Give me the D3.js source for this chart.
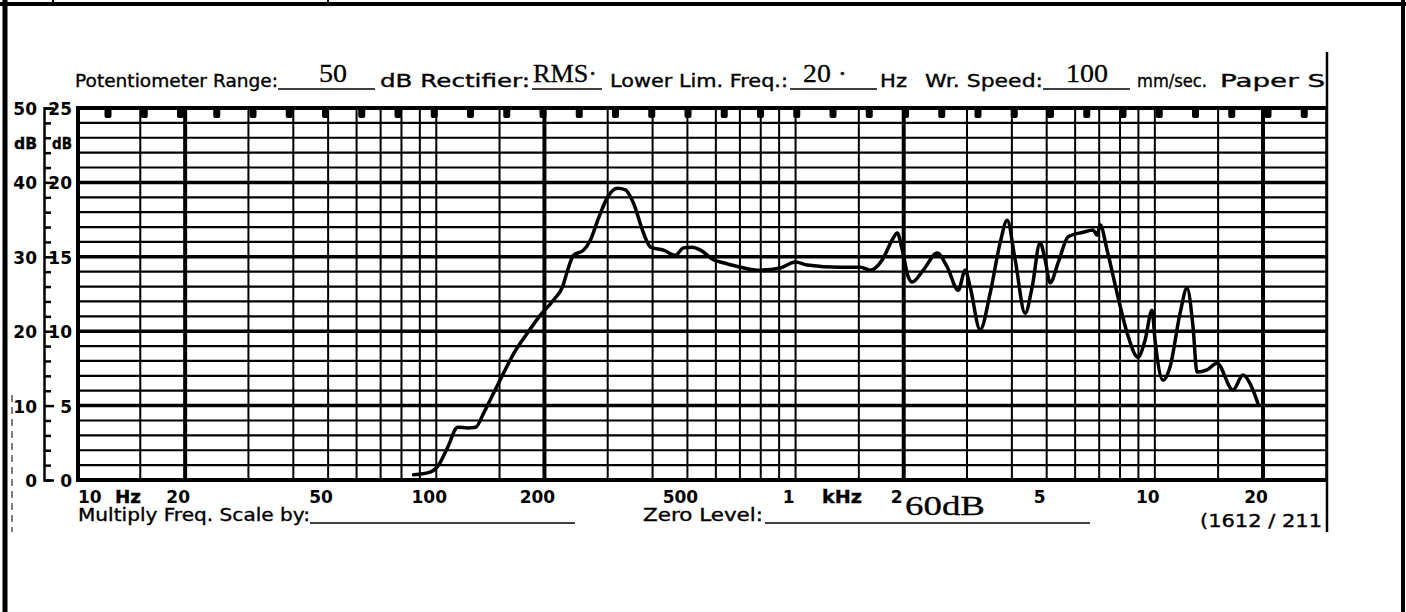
<!DOCTYPE html>
<html>
<head>
<meta charset="utf-8">
<script src="https://cdnjs.cloudflare.com/ajax/libs/d3/7.8.5/d3.min.js"></script>
<style>
  body { margin: 0; background: #fff; }
  svg { display: block; }
  text { font-family: "DejaVu Sans", sans-serif; fill: #000; }
  .form { stroke: #000; stroke-width: 0.35; }
  .typed { font-family: "Liberation Serif", "DejaVu Serif", serif; stroke: #000; stroke-width: 0.3; }
</style>
</head>
<body>
<script>
var width = 1406, height = 612;

// Level recorder trace (Hz, dB on the 50 dB scale)
var freqs = [86.5, 96.5, 101.5, 107.6, 114.7, 122.3, 128.7, 135.5, 144.4, 154, 164.2, 179.6, 195.1,
  212.1, 224.7, 232, 241, 257, 268.8, 282.9, 299.7, 319.4, 336.2, 353.9, 377.3, 394.7, 429, 463.2,
  487.5, 516.4, 543.6, 590.8, 630, 702, 783, 907, 999, 1078, 1332, 1514, 1615, 1744, 1859, 1919,
  1982, 2059, 2112, 2267, 2480, 2644, 2836, 2966, 3063, 3265, 3480, 3711, 3881, 4085, 4355, 4554,
  4793, 4950, 5111, 5380, 5737, 6315, 6733, 6907, 7041, 7363, 7852, 8370, 8981, 9391, 9822, 10013,
  10540, 11022, 11753, 12290, 12772, 13103, 13970, 14894, 16500, 17594, 18395, 19364];
var levels = [0.7, 1.1, 2, 4.4, 7.1, 7, 7.1, 9, 11.7, 14.4, 17, 19.8, 22.2,
  24.2, 26, 28.2, 30.2, 30.9, 32.3, 35.2, 38, 39.2, 39, 37.2, 33.2, 31.3, 30.9, 30.2,
  31.2, 31.3, 30.9, 29.6, 29.2, 28.6, 28.2, 28.5, 29.3, 28.9, 28.6, 28.6, 28.2, 29.6, 32.3, 33.2,
  30.9, 27.3, 26.6, 28.2, 30.5, 28.6, 25.5, 28.2, 25.9, 20.2, 25.1, 31.9, 34.9, 29.6, 22.4, 25.9,
  31.9, 29.6, 26.5, 29.2, 32.7, 33.3, 33.6, 32.9, 34.3, 30.9, 25.1, 19.8, 16.5, 18.8, 22.8, 18.8,
  13.4, 15.2, 22.4, 25.8, 20.6, 14.5, 14.8, 15.7, 12.1, 14.1, 13, 10.3];

// chart paper
var decades = [10, 100, 1000, 10000];
var gridMults = [1, 1.5, 2, 3, 4, 5, 6, 7, 8, 9];
var heavyFreqs = [20, 200, 2000, 20000];
var xTickVals = [10, 20, 50, 100, 200, 500, 1000, 2000, 5000, 10000, 20000];
var xTickLabels = ["10", "20", "50", "100", "200", "500", "1", "2", "5", "10", "20"];
var dbLabels = [0, 10, 20, 30, 40, 50];
var halfLabels = ["0", "5", "10", "15", "20", "25"];

var x = d3.scaleLog().domain([10, 20000]).range([77, 1263]);
var y = d3.scaleLinear().domain([0, 50]).range([480, 108]);
var plotLeft = 78, plotRight = 1327;

var svg = d3.select("body").append("svg")
  .attr("width", width)
  .attr("height", height);

svg.append("rect").attr("width", width).attr("height", height).attr("fill", "#fff");

// outer frame of the scanned page
svg.append("line").attr("x1", 0).attr("x2", width).attr("y1", 4).attr("y2", 4)
  .attr("stroke", "#000").attr("stroke-width", 4);
[53, 328].forEach(function(px) {
  svg.append("line").attr("x1", px).attr("x2", px).attr("y1", 0).attr("y2", 4)
    .attr("stroke", "#000").attr("stroke-width", 2);
});
svg.append("line").attr("x1", 5).attr("x2", 5).attr("y1", 0).attr("y2", height)
  .attr("stroke", "#000").attr("stroke-width", 5);
svg.append("line").attr("x1", 1403).attr("x2", 1403).attr("y1", 0).attr("y2", height)
  .attr("stroke", "#000").attr("stroke-width", 4);
svg.append("line").attr("x1", 12).attr("x2", 12).attr("y1", 395).attr("y2", 532)
  .attr("stroke", "#000").attr("stroke-width", 1).attr("stroke-dasharray", "7,5");
// cut edge of the strip
svg.append("line").attr("x1", plotRight).attr("x2", plotRight).attr("y1", 52).attr("y2", 532)
  .attr("stroke", "#000").attr("stroke-width", 2.5);

svg.append("clipPath").attr("id", "paper")
  .append("rect").attr("x", 0).attr("y", 0).attr("width", plotRight).attr("height", height);

var g = svg.append("g").attr("clip-path", "url(#paper)");

// horizontal grid, every 2 dB
g.selectAll("line.h")
  .data(d3.range(0, 51, 2))
  .enter().append("line")
  .attr("class", "h")
  .attr("x1", plotLeft).attr("x2", plotRight)
  .attr("y1", function(d) { return y(d); })
  .attr("y2", function(d) { return y(d); })
  .attr("stroke", "#000")
  .attr("stroke-width", function(d) { return (d === 0 || d === 50) ? 4 : (d % 10 === 0 ? 3.5 : 2.2); });

// vertical log grid
var vFreqs = [];
decades.forEach(function(d) { gridMults.forEach(function(m) { vFreqs.push(d * m); }); });
vFreqs.push(20000);
g.selectAll("line.v")
  .data(vFreqs)
  .enter().append("line")
  .attr("class", "v")
  .attr("x1", function(d) { return x(d); })
  .attr("x2", function(d) { return x(d); })
  .attr("y1", y(50)).attr("y2", y(0))
  .attr("stroke", "#000")
  .attr("stroke-width", function(d) { return heavyFreqs.indexOf(d) >= 0 ? 4 : 2; });
g.append("line").attr("x1", plotLeft).attr("x2", plotLeft).attr("y1", y(50) - 2).attr("y2", y(0) + 2)
  .attr("stroke", "#000").attr("stroke-width", 4);

// time markers hanging from the top edge
g.selectAll("rect.mark")
  .data(d3.range(0, 34))
  .enter().append("rect")
  .attr("class", "mark")
  .attr("x", function(i) { return 104.5 + i * 36.25; })
  .attr("y", y(50))
  .attr("width", 7)
  .attr("height", 10)
  .attr("rx", 2)
  .attr("fill", "#000");

// response trace
var line = d3.line()
  .x(function(d, i) { return x(freqs[i]); })
  .y(function(d) { return y(d); })
  .curve(d3.curveMonotoneX);
g.append("path")
  .datum(levels)
  .attr("d", line)
  .attr("fill", "none")
  .attr("stroke", "#000")
  .attr("stroke-width", 3.5)
  .attr("stroke-linejoin", "round")
  .attr("stroke-linecap", "round");

// left dB scale
var yAxis = d3.axisRight(y)
  .tickValues(d3.range(0, 51, 2))
  .tickSize(7)
  .tickFormat("");
var ax = svg.append("g").attr("transform", "translate(44,0)").call(yAxis);
ax.selectAll("path, line").attr("stroke", "#000").attr("stroke-width", 2.5);
ax.selectAll(".tick line").filter(function(d) { return d % 10 === 0; }).attr("x2", 10);

function label(str, px, py, len, size, cls, anchor) {
  var t = svg.append("text")
    .attr("x", px).attr("y", py)
    .attr("font-size", size || 17)
    .attr("text-anchor", anchor || "start")
    .attr("class", cls || "form")
    .text(str);
  if (len) t.attr("textLength", len).attr("lengthAdjust", "spacingAndGlyphs");
  return t;
}

svg.selectAll("text.db")
  .data(dbLabels)
  .enter().append("text")
  .attr("class", "db")
  .attr("x", 37)
  .attr("y", function(d) { return y(d) + 7; })
  .attr("text-anchor", "end")
  .attr("font-size", 17)
  .attr("font-weight", "bold")
  .text(function(d) { return d; });
svg.selectAll("text.half")
  .data(dbLabels)
  .enter().append("text")
  .attr("class", "half")
  .attr("x", 72)
  .attr("y", function(d) { return y(d) + 7; })
  .attr("text-anchor", "end")
  .attr("font-size", 17)
  .attr("font-weight", "bold")
  .text(function(d, i) { return halfLabels[i]; });
label("dB", 14, 149, 23, 16).attr("font-weight", "bold");
label("dB", 52, 149, 20, 16).attr("font-weight", "bold");

// frequency labels
svg.selectAll("text.freq")
  .data(xTickVals)
  .enter().append("text")
  .attr("class", "freq")
  .attr("x", function(d, i) { return i === 0 ? x(d) + 1 : x(d) - 7; })
  .attr("y", 503)
  .attr("text-anchor", function(d, i) { return i === 0 ? "start" : "middle"; })
  .attr("font-size", 17)
  .attr("font-weight", "bold")
  .text(function(d, i) { return xTickLabels[i]; });
label("Hz", 115, 503, 26, 17).attr("font-weight", "bold");
label("kHz", 822, 503, 40, 17).attr("font-weight", "bold");

// header line of the recorder form
var hy = 87;
label("Potentiometer Range:", 75, hy, 203);
label("dB  Rectifier:", 380, hy, 150);
label("Lower Lim. Freq.:", 610, hy, 178);
label("Hz", 880, hy, 27);
label("Wr. Speed:", 925, hy, 118);
label("mm/sec.", 1137, hy, 70);
label("Paper S", 1220, hy, 105);
[[278, 375], [532, 602], [790, 877], [1043, 1130]].forEach(function(u) {
  svg.append("line").attr("x1", u[0]).attr("x2", u[1]).attr("y1", hy + 2).attr("y2", hy + 2)
    .attr("stroke", "#000").attr("stroke-width", 1.6);
});
label("50", 333, hy - 5, 28, 25, "typed", "middle");
label("RMS·", 533, hy - 5, 64, 25, "typed");
label("20 ·", 803, hy - 5, 44, 25, "typed");
label("100", 1087, hy - 5, 42, 25, "typed", "middle");

// footer line
var fy = 521;
label("Multiply Freq. Scale by:", 78, fy, 232);
label("Zero Level:", 643, fy, 120);
label("(1612 / 211", 1200, fy + 6, 122);
[[310, 575], [765, 1090]].forEach(function(u) {
  svg.append("line").attr("x1", u[0]).attr("x2", u[1]).attr("y1", fy + 2).attr("y2", fy + 2)
    .attr("stroke", "#000").attr("stroke-width", 1.6);
});
label("60dB", 905, fy - 6, 80, 27, "typed");
</script>
</body>
</html>
